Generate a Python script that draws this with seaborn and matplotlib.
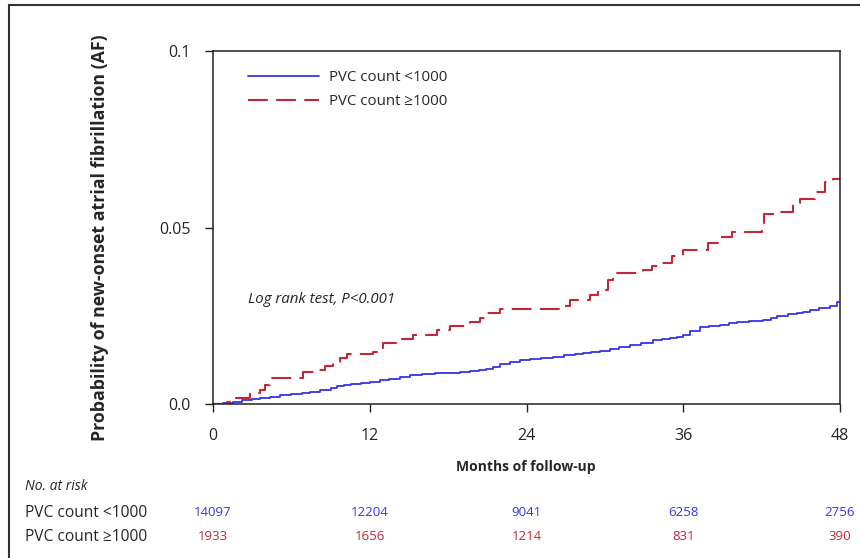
import matplotlib
matplotlib.use("Agg")
import matplotlib.pyplot as plt
import matplotlib.transforms as mtransforms
from matplotlib.patches import Rectangle
import pandas as pd
import seaborn as sns

# curve data (months, cumulative probability)
low_months = [0, 0.8, 1.5, 2.2, 3.0, 3.6, 4.4, 5.1, 6.0, 6.8, 7.4, 8.2, 9.0, 9.5, 10.0,
              10.6, 11.3, 12.0, 12.8, 13.5, 14.3, 15.1, 16.0, 17.0, 18.0, 18.9, 19.7,
              20.4, 20.9, 21.4, 22.0, 22.7, 23.5, 24.3, 25.1, 26.0, 26.9, 27.7, 28.3,
              28.9, 29.6, 30.4, 31.1, 31.9, 32.8, 33.7, 34.4, 35.0, 35.5, 36.0, 36.5,
              37.3, 38.0, 38.8, 39.5, 40.1, 41.0, 42.1, 42.7, 43.2, 44.0, 44.7, 45.2,
              45.7, 46.4, 47.2, 47.8, 48]
low_prob = [0, 0.0002, 0.0006, 0.001, 0.0014, 0.0017, 0.0021, 0.0025, 0.0028, 0.0031,
            0.0035, 0.004, 0.0045, 0.005, 0.0054, 0.0057, 0.006, 0.0062, 0.0067, 0.0072,
            0.0077, 0.0082, 0.0085, 0.0087, 0.0089, 0.0091, 0.0093, 0.0095, 0.0100,
            0.0105, 0.0112, 0.0120, 0.0124, 0.0128, 0.0131, 0.0134, 0.0138, 0.0142,
            0.0145, 0.0148, 0.0151, 0.0155, 0.0161, 0.0168, 0.0174, 0.0180, 0.0183,
            0.0186, 0.019, 0.0195, 0.0208, 0.0218, 0.0221, 0.0224, 0.0229, 0.0233,
            0.0235, 0.0237, 0.0244, 0.025, 0.0255, 0.0259, 0.0262, 0.0265, 0.0271,
            0.0278, 0.029, 0.029]

high_months = [0, 1.07, 1.53, 2.83, 3.6, 3.98, 4.36, 6.89, 7.96, 8.57, 9.19, 9.72, 10.26,
               12.25, 12.63, 13.01, 14.16, 15.31, 17.15, 18.14, 19.67, 20.44, 20.98,
               21.97, 26.79, 27.33, 28.86, 29.47, 30.24, 30.62, 32.92, 33.6, 34.22,
               35.14, 35.98, 37.89, 38.81, 39.73, 42.0, 42.2, 43.4, 44.4, 44.93, 46.08,
               46.85, 47.47, 48]
high_prob = [0, 0.0006, 0.0017, 0.003, 0.004, 0.0055, 0.0074, 0.0091, 0.0097, 0.0108,
             0.0119, 0.013, 0.0142, 0.0148, 0.016, 0.0173, 0.0185, 0.0196, 0.021, 0.0222,
             0.0233, 0.0245, 0.0259, 0.027, 0.0278, 0.0295, 0.031, 0.0324, 0.0352, 0.037,
             0.038, 0.039, 0.040, 0.042, 0.0435, 0.0457, 0.0472, 0.0486, 0.051, 0.0537,
             0.0545, 0.057, 0.0582, 0.060, 0.0628, 0.0636, 0.0636]

risk_months = [0, 12, 24, 36, 48]
risk_low = [14097, 12204, 9041, 6258, 2756]
risk_high = [1933, 1656, 1214, 831, 390]

group_names = ["PVC count <1000", "PVC count \u22651000"]
blue = "#3535e8"
red = "#c0283a"

df_low = pd.DataFrame({"months": low_months, "prob": low_prob})
df_high = pd.DataFrame({"months": high_months, "prob": high_prob})

sns.set_style("ticks")
plt.rcParams["font.family"] = ["Open Sans", "DejaVu Sans"]

fig = plt.figure(figsize=(8.6, 5.58), dpi=100)
ax = fig.add_axes([213 / 860, 1 - 404 / 558, (840 - 213) / 860, (404 - 51) / 558])

sns.lineplot(data=df_low, x="months", y="prob", ax=ax, color=blue, lw=1.3,
             drawstyle="steps-post", label=group_names[0])
sns.lineplot(data=df_high, x="months", y="prob", ax=ax, color=red, lw=1.5,
             drawstyle="steps-post", linestyle=(0, (9.5, 4)), label=group_names[1])

ax.set_xlim(0, 48)
ax.set_ylim(0, 0.1)
ax.set_xticks(risk_months)
ax.set_yticks([0, 0.05, 0.1])
ax.set_yticklabels(["0.0", "0.05", "0.1"])
ax.tick_params(axis="both", direction="out", length=6, width=1, labelsize=11.5, color="#222")
ax.tick_params(axis="x", pad=11)
ax.tick_params(axis="y", pad=10)
for s in ax.spines.values():
    s.set_visible(True)
    s.set_color("#222")
    s.set_linewidth(1.1)
ax.set_xlabel("")
ax.set_ylabel("")

leg = ax.legend(loc="upper left", bbox_to_anchor=(0.035, 0.985), frameon=False,
                fontsize=10.8, handlelength=4.7, handletextpad=0.65, labelspacing=0.6)

ax.text(0.056, 0.295, "Log rank test, P<0.001", transform=ax.transAxes,
        style="italic", fontsize=10.8, ha="left", va="center")

fig.text(100 / 860, 1 - 238 / 558, "Probability of new-onset atrial fibrillation (AF)",
         rotation=90, ha="center", va="center", fontsize=12.8, fontweight="bold")
fig.text(526 / 860, 1 - 467 / 558, "Months of follow-up", ha="center", va="center",
         fontsize=10, fontweight="bold")
fig.text(25 / 860, 1 - 486 / 558, "No. at risk", ha="left", va="center",
         fontsize=10, style="italic")

trans = mtransforms.blended_transform_factory(ax.transData, fig.transFigure)
rows = [(risk_low, blue, 513), (risk_high, red, 537)]
for (vals, col, ypx), name in zip(rows, group_names):
    fig.text(25 / 860, 1 - ypx / 558, name, ha="left", va="center", fontsize=11.2)
    for m, v in zip(risk_months, vals):
        ax.text(m, 1 - ypx / 558, str(v), transform=trans, ha="center", va="center",
                fontsize=9.5, color=col)

# outer frame of the figure panel
fig.patches.append(Rectangle((9 / 860, -0.1), 1.2, 1.1 - 5 / 558, transform=fig.transFigure,
                             fill=False, edgecolor="#333", lw=1.5))

fig.savefig("out.png", dpi=100)
